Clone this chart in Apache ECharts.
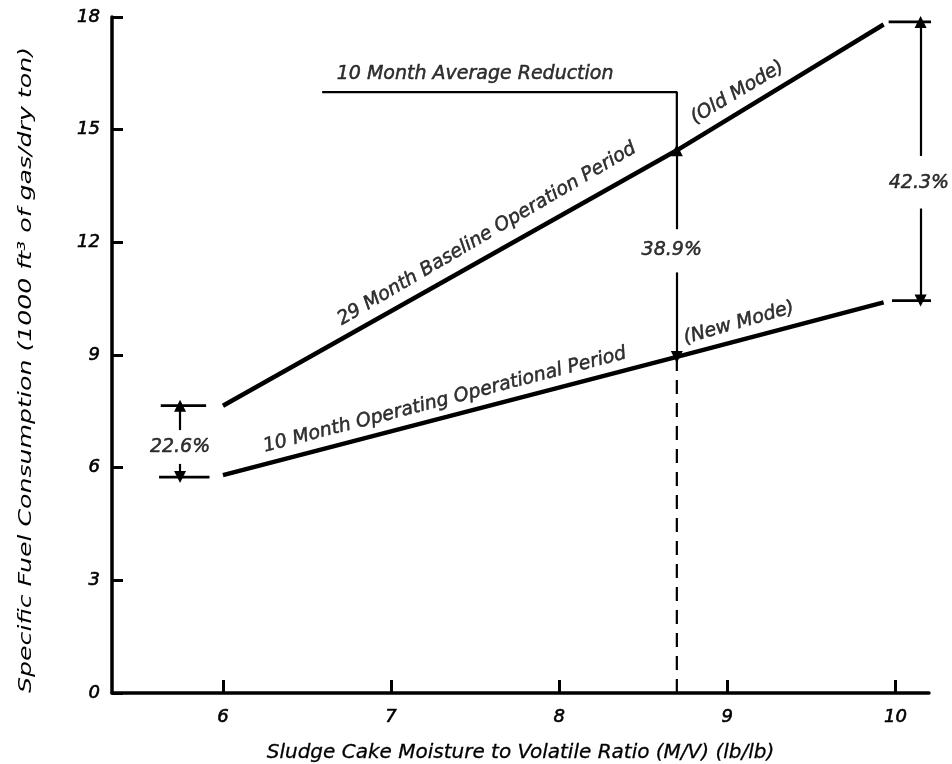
<!DOCTYPE html>
<html><head><meta charset="utf-8">
<script src="https://cdn.jsdelivr.net/npm/echarts@6/dist/echarts.min.js"></script>
<style>html,body{margin:0;padding:0;background:#fff;overflow:hidden}#c{width:952px;height:764px}</style>
</head><body><div id="c"></div>
<script>
// ---- data ----
const xTicks = [6, 7, 8, 9, 10];
const yTicks = [0, 3, 6, 9, 12, 15, 18];
const oldMode = [[6, 7.65], [8.7, 14.45], [9.93, 17.8]];
const newMode = [[6, 5.8], [8.7, 8.95], [9.93, 10.4]];
const dashedMarker = [[8.7, 0], [8.7, 8.95]];
const avgReductionLine = [[6.59, 16.0], [8.7, 16.0], [8.7, 14.45]];
const bracketLines = [
  [[5.63, 7.65], [5.9, 7.65]],
  [[5.62, 5.75], [5.92, 5.75]],
  [[9.96, 17.87], [10.26, 17.87]],
  [[9.98, 10.45], [10.33, 10.45]]
];
const arrows = [
  [[5.745, 7.0], [5.745, 7.65]],
  [[5.745, 6.1], [5.745, 5.75]],
  [[8.7, 12.35], [8.7, 14.45]],
  [[8.7, 11.2], [8.7, 8.95]],
  [[10.15, 14.3], [10.15, 17.87]],
  [[10.15, 12.9], [10.15, 10.45]]
];
const textLabels = [
  {text: '10 Month Average Reduction', x: 7.5, y: 16.47, rot: 0},
  {text: '29 Month Baseline Operation Period', x: 7.57, y: 12.22, rot: 30.5},
  {text: '(Old Mode)', x: 9.06, y: 15.99, rot: 31},
  {text: '10 Month Operating Operational Period', x: 7.32, y: 7.8, rot: 14.5},
  {text: '(New Mode)', x: 9.07, y: 9.85, rot: 16},
  {text: '38.9%', x: 8.67, y: 11.8, rot: 0},
  {text: '42.3%', x: 10.14, y: 13.58, rot: 0},
  {text: '22.6%', x: 5.745, y: 6.55, rot: 0}
];
const xName = 'Sludge Cake Moisture to Volatile Ratio (M/V) (lb/lb)';
const yName = 'Specific Fuel Consumption (1000 ft\u00B3 of gas/dry ton)';

const FONT = "'DejaVu Sans'";
const chart = echarts.init(document.getElementById('c'));
const series = [];
series.push({type: 'line', data: oldMode, symbol: 'none', lineStyle: {color: '#000', width: 4.5}, silent: true, z: 5});
series.push({type: 'line', data: newMode, symbol: 'none', lineStyle: {color: '#000', width: 4.5}, silent: true, z: 5});
series.push({type: 'line', data: dashedMarker, symbol: 'none', lineStyle: {color: '#000', width: 2.2, type: [14, 9]}, silent: true});
series.push({type: 'line', data: avgReductionLine, symbol: 'none', lineStyle: {color: '#000', width: 2.2}, silent: true});
bracketLines.forEach(b => series.push({type: 'line', data: b, symbol: 'none', lineStyle: {color: '#000', width: 2.8}, silent: true}));
series.push({
  type: 'lines', coordinateSystem: 'cartesian2d', silent: true,
  symbol: ['none', 'triangle'], symbolSize: [0, 12],
  lineStyle: {color: '#000', width: 2.2, opacity: 1},
  data: arrows.map(a => ({coords: a}))
});
textLabels.forEach(t => series.push({
  type: 'scatter', symbolSize: 0, silent: true,
  data: [[t.x, t.y]],
  label: {show: true, position: 'inside', formatter: t.text, rotate: t.rot,
    color: '#000', textBorderColor: '#000', textBorderWidth: 0.5,
    fontFamily: FONT, fontStyle: 'italic', fontSize: 19, align: 'center', verticalAlign: 'middle'}
}));

chart.setOption({
  animation: false,
  backgroundColor: '#fff',
  grid: {left: 112, right: 23, top: 17, bottom: 71, outerBoundsMode: 'none', containLabel: false},
  graphic: [{
    type: 'text', x: 26, y: 370, rotation: Math.PI / 2, scaleX: 1.4, silent: true,
    style: {text: yName, font: "italic 18px 'DejaVu Sans'", fill: '#000', align: 'center', verticalAlign: 'middle'}
  }],
  xAxis: {
    type: 'value', min: 5.34, max: 10.2,
    name: xName,
    nameLocation: 'middle', nameGap: 50,
    nameTextStyle: {fontFamily: FONT, fontStyle: 'italic', fontSize: 20, color: '#000', textBorderColor: '#000', textBorderWidth: 0.3},
    axisLine: {lineStyle: {color: '#000', width: 3.5}},
    axisTick: {inside: true, length: 13, lineStyle: {width: 3, color: '#000'}, customValues: xTicks},
    axisLabel: {customValues: xTicks, margin: 15, fontFamily: FONT, fontStyle: 'italic', fontSize: 18, color: '#000', textBorderColor: '#000', textBorderWidth: 0.6},
    splitLine: {show: false}
  },
  yAxis: {
    type: 'value', min: 0, max: 18, interval: 3,
    axisLine: {lineStyle: {color: '#000', width: 3.5}},
    axisTick: {inside: true, length: 11, lineStyle: {width: 3, color: '#000'}},
    axisLabel: {margin: 12, fontFamily: FONT, fontStyle: 'italic', fontSize: 18, color: '#000', textBorderColor: '#000', textBorderWidth: 0.6},
    splitLine: {show: false}
  },
  series: series
});
</script></body></html>
